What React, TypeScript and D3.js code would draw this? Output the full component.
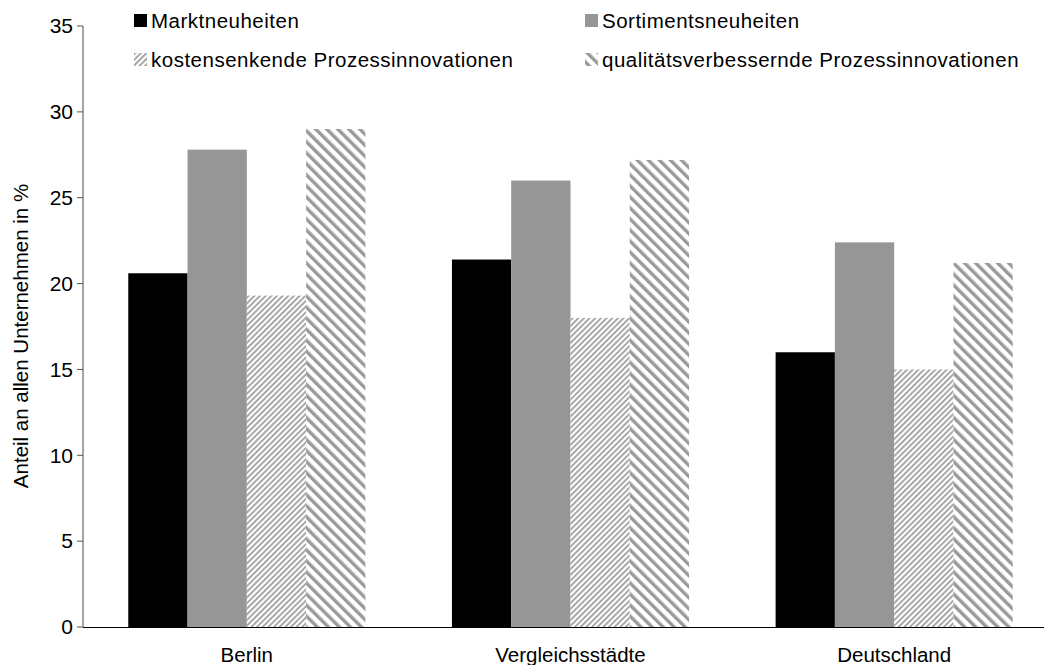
import React from "react";
import * as d3 from "d3";

const categories = ["Berlin", "Vergleichsstädte", "Deutschland"];
const seriesNames = [
  "Marktneuheiten",
  "Sortimentsneuheiten",
  "kostensenkende Prozessinnovationen",
  "qualitätsverbessernde Prozessinnovationen",
];
const marktneuheiten = [20.6, 21.4, 16.0];
const sortimentsneuheiten = [27.8, 26.0, 22.4];
const kostensenkend = [19.3, 18.0, 15.0];
const qualitaet = [29.0, 27.2, 21.2];
const yTicks = [0, 5, 10, 15, 20, 25, 30, 35];

const seriesValues = [marktneuheiten, sortimentsneuheiten, kostensenkend, qualitaet];
const fills = ["#000000", "#969696", "url(#hatchThin)", "url(#hatchWide)"];

const font = "Arial, 'Liberation Sans', sans-serif";

const App: React.FC = () => {
  const width = 1044;
  const height = 665;

  const y = d3.scaleLinear().domain([0, 35]).range([627, 26]);
  const x0 = d3.scaleBand<string>().domain(categories).range([85, 1056]).padding(0);
  const x1 = d3
    .scaleBand<string>()
    .domain(seriesNames)
    .range([0, x0.bandwidth()])
    .paddingInner(0)
    .paddingOuter(0.73);

  const legendPos = [
    { x: 134, y: 14 },
    { x: 585, y: 14 },
    { x: 134, y: 53 },
    { x: 585, y: 53 },
  ];

  return (
    <svg
      width={width}
      height={height}
      style={{ position: "absolute", left: 0, top: 0, background: "#fff" }}
      fontFamily={font}
    >
      <defs>
        <pattern id="hatchThin" patternUnits="userSpaceOnUse" width={4} height={4} patternTransform="rotate(45)">
          <rect width={4} height={4} fill="#fff" />
          <rect width={1.8} height={4} fill="#a0a0a0" />
        </pattern>
        <pattern id="hatchWide" patternUnits="userSpaceOnUse" width={7.8} height={7.8} patternTransform="rotate(-45)">
          <rect width={7.8} height={7.8} fill="#fff" />
          <rect width={3.4} height={7.8} fill="#9a9a9a" />
        </pattern>
      </defs>

      {/* bars */}
      {categories.map((c, ci) => (
        <g key={c} transform={`translate(${x0(c)},0)`}>
          {seriesNames.map((s, si) => (
            <rect
              key={s}
              x={x1(s)}
              y={y(seriesValues[si][ci])}
              width={x1.bandwidth()}
              height={y(0) - y(seriesValues[si][ci])}
              fill={fills[si]}
            />
          ))}
        </g>
      ))}

      {/* y axis */}
      <line x1={83} x2={83} y1={y(35)} y2={y(0)} stroke="#868686" strokeWidth={1.5} />
      {yTicks.map((t) => (
        <g key={t}>
          <line x1={77} x2={83} y1={y(t)} y2={y(t)} stroke="#555" strokeWidth={1} />
          <text x={73} y={y(t)} dy="0.35em" textAnchor="end" fontSize={21} fill="#000">
            {t}
          </text>
        </g>
      ))}
      <text
        transform={`translate(28,336) rotate(-90)`}
        textAnchor="middle"
        fontSize={20.5}
        fill="#000"
      >
        Anteil an allen Unternehmen in %
      </text>

      {/* x axis */}
      <line x1={83} x2={width} y1={y(0) + 0.5} y2={y(0) + 0.5} stroke="#000" strokeWidth={1.2} />
      {categories.map((c) => (
        <text
          key={c}
          x={(x0(c) ?? 0) + x0.bandwidth() / 2}
          y={662}
          textAnchor="middle"
          fontSize={20.5}
          fill="#000"
        >
          {c}
        </text>
      ))}

      {/* legend */}
      {seriesNames.map((s, i) => (
        <g key={s} transform={`translate(${legendPos[i].x},${legendPos[i].y})`}>
          <rect width={13} height={13} fill={fills[i]} />
          <text x={17} y={6.5} dy="0.35em" fontSize={20.5} letterSpacing={0.5} fill="#000">
            {s}
          </text>
        </g>
      ))}
    </svg>
  );
};

export default App;
